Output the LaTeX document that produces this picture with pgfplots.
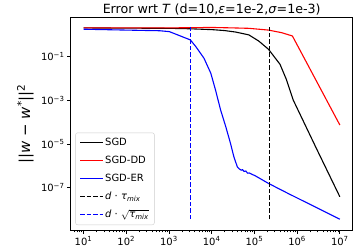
\documentclass[border=0pt]{standalone}
\usepackage{pgfplots}
\pgfplotsset{compat=1.18}
\usepackage{fontspec}
\setmainfont{DejaVu Sans}
\begin{document}
\begin{tikzpicture}[font=\fontsize{10}{12}\selectfont]
\begin{axis}[
  xmode=log, ymode=log,
  scale only axis, width=282bp, height=213bp,
  xmin=5.01, xmax=2.0e7, ymin=1.1e-9, ymax=6.4,
  axis line style={line width=0.8bp},
  tick pos=left, tick align=outside,
  major tick length=3.5bp, minor tick length=2bp,
  every tick/.style={black, line width=0.8bp},
  minor tick style={line width=0.6bp},
  xtick={1e1,1e2,1e3,1e4,1e5,1e6,1e7},
  xticklabels={10\textsuperscript{1},10\textsuperscript{2},10\textsuperscript{3},10\textsuperscript{4},10\textsuperscript{5},10\textsuperscript{6},10\textsuperscript{7}},
  minor xtick={6,7,8,9,20,30,40,50,60,70,80,90,200,300,400,500,600,700,800,900,2000,3000,4000,5000,6000,7000,8000,9000,2e4,3e4,4e4,5e4,6e4,7e4,8e4,9e4,2e5,3e5,4e5,5e5,6e5,7e5,8e5,9e5,2e6,3e6,4e6,5e6,6e6,7e6,8e6,9e6},
  ytick={1e-7,1e-5,1e-3,1e-1},
  yticklabels={10\textsuperscript{−7},10\textsuperscript{−5},10\textsuperscript{−3},10\textsuperscript{−1}},
  yminorticks=false,
  xticklabel style={inner sep=1bp, yshift=-1.5bp},
  yticklabel style={inner sep=1bp, xshift=-1.5bp},
  every axis title shift=0pt,
  title={Error wrt \textit{T} (d=10,\textit{ε}=1e-2,\textit{σ}=1e-3)},
  title style={font=\fontsize{12.7}{15}\selectfont, inner sep=0pt, anchor=base, at={(0.5,1)}, yshift=4bp},
  ylabel={||\textit{w} − \textit{w}\textsuperscript{*}||\textsuperscript{2}},
  ylabel style={font=\fontsize{15}{18}\selectfont},
  ylabel shift=3bp,
  legend cell align=left,
  legend style={at={(0,0)}, anchor=south west, xshift=4.7bp, yshift=5.3bp,
    draw=black!20, rounded corners=2pt, fill=white,
    inner xsep=4bp, inner ysep=3bp, row sep=4bp,
    font=\fontsize{10}{12}\selectfont,
    nodes={inner sep=1.5bp, text height=8bp, text depth=3bp},
    /tikz/every even column/.append style={column sep=4bp}},
  legend image code/.code={\draw[#1] (0bp,0bp) -- (23bp,0bp);},
]
\addplot[black, line width=1.1bp] coordinates {
(10,2.09) (100,2.04) (1000,2.0) (3020,1.91) (10230,1.74) (19950,1.58) (36300,1.35)
(74100,1.0) (125900,0.525) (213800,0.219) (398100,0.0447) (562300,8.9e-3)
(812800,1.02e-3) (2.818e6,6.3e-6) (1e7,3.8e-8)};
\addlegendentry{SGD}
\addplot[red, line width=1.1bp] coordinates {
(10,2.09) (100,2.09) (1000,2.09) (3162,2.14) (10000,2.19) (31620,2.09) (74100,2.0)
(213800,1.66) (436500,1.26) (776200,0.89) (1e7,7.4e-5)};
\addlegendentry{SGD-DD}
\addplot[blue, line width=1.1bp] coordinates {
(10,1.82) (100,1.66) (602.6,1.55) (1023,1.41) (3162,0.589) (4266,0.288) (6607,0.0851)
(9550,0.0174) (12300,2.95e-3) (16220,3.55e-4) (21380,6.17e-5) (27540,1.07e-5)
(33110,2.57e-6) (39810,8.9e-7) (44670,7.1e-7) (49000,6.3e-7) (52480,6.6e-7)
(57540,5.5e-7) (63100,5.75e-7) (69180,4.57e-7) (75860,4.68e-7) (85100,4.17e-7)
(104700,3.47e-7) (213800,1.55e-7) (616600,5.37e-8) (1e7,3.55e-9)};
\addlegendentry{SGD-ER}
\addplot[black, line width=1.1bp, dash pattern=on 4.5bp off 2bp] coordinates {(2.24e5,3.55e-9) (2.24e5,2.19)};
\addlegendentry{\textit{d} · \textit{τ}\textsubscript{\textit{mix}}}
\addplot[blue, line width=1.1bp, dash pattern=on 4.5bp off 2bp] coordinates {(3162,3.55e-9) (3162,2.19)};
\addlegendentry{\textit{d} · $\sqrt{\mbox{\textit{τ}\textsubscript{\textit{mix}}}}$}
\coordinate (sw) at (rel axis cs:0,0);
\coordinate (ne) at (rel axis cs:1,1);
\end{axis}
\pgfresetboundingbox
\path ([shift={(-70.7bp,-20bp)}]sw) rectangle ([shift={(1.3bp,17.3bp)}]ne);
\end{tikzpicture}
\end{document}
